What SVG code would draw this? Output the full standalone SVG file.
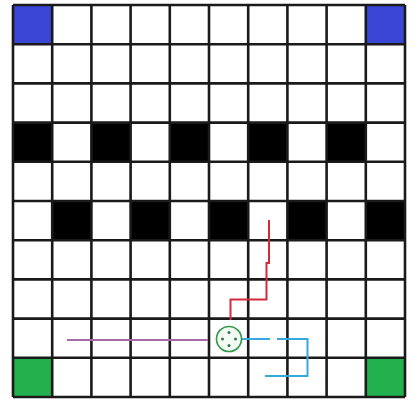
<svg xmlns="http://www.w3.org/2000/svg" width="413" height="399" viewBox="0 0 413 399">
  <defs>
    <style>
      .blk { fill: #000000; }
      .blue { fill: #3a47d6; }
      .green { fill: #22b14c; }
      .grid { stroke: #1a1a1a; stroke-width: 2.6; fill: none; }
      .conn { fill: none; stroke-width: 2; }
      .dot { fill: #2e7a4a; }
    </style>
  </defs>
  <rect width="413" height="399" fill="#ffffff"/>
  <g id="cells">
    <rect class="blue" x="13" y="5" width="39.2" height="39.2"/>
    <rect class="blue" x="365.8" y="5" width="39.2" height="39.2"/>
    <rect class="green" x="13" y="357.8" width="39.2" height="39.2"/>
    <rect class="green" x="365.8" y="357.8" width="39.2" height="39.2"/>
    <rect class="blk" x="13" y="122.6" width="39.2" height="39.2"/>
    <rect class="blk" x="91.4" y="122.6" width="39.2" height="39.2"/>
    <rect class="blk" x="169.8" y="122.6" width="39.2" height="39.2"/>
    <rect class="blk" x="248.2" y="122.6" width="39.2" height="39.2"/>
    <rect class="blk" x="326.6" y="122.6" width="39.2" height="39.2"/>
    <rect class="blk" x="52.2" y="201" width="39.2" height="39.2"/>
    <rect class="blk" x="130.6" y="201" width="39.2" height="39.2"/>
    <rect class="blk" x="209" y="201" width="39.2" height="39.2"/>
    <rect class="blk" x="287.4" y="201" width="39.2" height="39.2"/>
    <rect class="blk" x="365.8" y="201" width="39.2" height="39.2"/>
  </g>
  <g id="grid">
    <path class="grid" d="M13,5V397M52.2,5V397M91.4,5V397M130.6,5V397M169.8,5V397M209,5V397M248.2,5V397M287.4,5V397M326.6,5V397M365.8,5V397M405,5V397
      M13,5H405M13,44.2H405M13,83.4H405M13,122.6H405M13,161.8H405M13,201H405M13,240.2H405M13,279.4H405M13,318.6H405M13,357.8H405M13,397H405"/>
  </g>
  <g id="connectors">
    <path class="conn" stroke="#d42a3a" d="M269,220V263H266.5V299.5H230.5V320"/>
    <path class="conn" stroke="#a46aa4" d="M67,340H208"/>
    <path class="conn" stroke="#36a9dc" d="M237,339H270M277,339H307.5V376H265"/>
  </g>
  <g id="agent">
    <circle cx="229" cy="339" r="12.5" fill="#f4fbf4" stroke="#2e9a4a" stroke-width="1.6"/>
    <circle class="dot" cx="229" cy="332.5" r="1.5"/>
    <circle class="dot" cx="229" cy="345.5" r="1.5"/>
    <circle class="dot" cx="222.5" cy="339" r="1.5"/>
    <circle class="dot" cx="235.5" cy="339" r="1.5"/>
  </g>
</svg>
